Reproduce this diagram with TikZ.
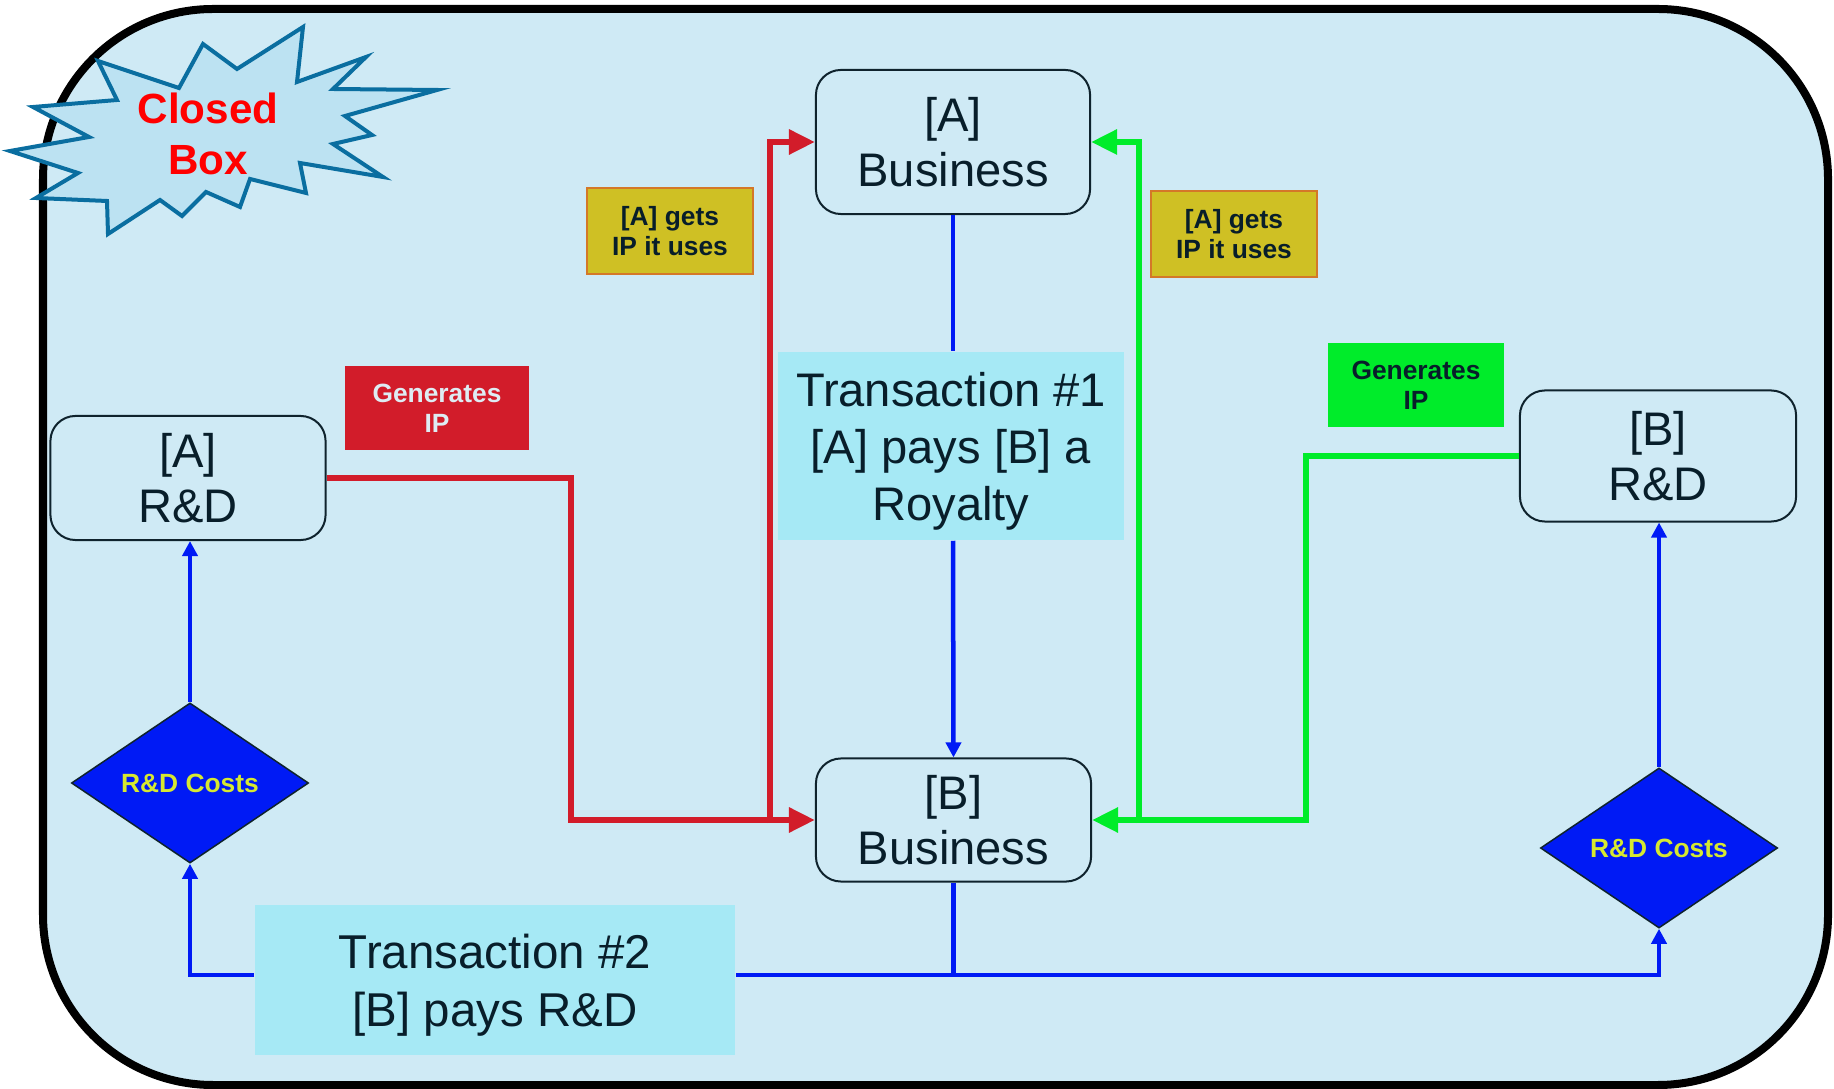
\documentclass[tikz,border=0pt]{standalone}
\usepackage{fontspec}
\setmainfont{Liberation Sans}
\usetikzlibrary{shapes.geometric,arrows.meta}
\definecolor{bgblue}{RGB}{207,234,245}
\definecolor{starfill}{RGB}{188,226,242}
\definecolor{starline}{RGB}{10,110,160}
\definecolor{boxline}{RGB}{15,35,45}
\definecolor{txtdark}{RGB}{8,30,42}
\definecolor{trcyan}{RGB}{166,233,245}
\definecolor{lnred}{RGB}{210,28,42}
\definecolor{lngreen}{RGB}{0,236,42}
\definecolor{lnblue}{RGB}{0,26,245}
\definecolor{labredtxt}{RGB}{222,236,243}
\definecolor{labgold}{RGB}{207,192,36}
\definecolor{labgoldline}{RGB}{212,120,40}
\definecolor{diatext}{RGB}{214,232,48}
\begin{document}
\begin{tikzpicture}[x=0.01cm,y=-0.01cm,
  bizbox/.style={draw=boxline, line width=0.02cm, fill=bgblue, rounded corners=0.25cm,
    align=center, text=txtdark, font=\fontsize{13.4}{15.6}\selectfont, inner sep=0pt},
  trbox/.style={fill=trcyan, align=center, text=txtdark, inner sep=0pt, text depth=0pt},
  lab/.style={align=center, font=\bfseries\fontsize{7.5}{8.6}\selectfont, inner sep=0pt},
  dia/.style={diamond, draw=boxline, line width=0.015cm, fill=lnblue, text=diatext,
    font=\bfseries\fontsize{7.5}{9}\selectfont, inner sep=0pt,
    minimum width=2.37cm, minimum height=1.6cm},
  redln/.style={draw=lnred, line width=0.06cm},
  grnln/.style={draw=lngreen, line width=0.06cm},
  blueln/.style={draw=lnblue, line width=0.045cm},
  tipbig/.style={-{Triangle[length=0.26cm,width=0.24cm]}},
  tipsmall/.style={-{Triangle[length=0.15cm,width=0.15cm]}}
]
\useasboundingbox (0,0) rectangle (1834,1089);
% outer closed box
\draw[line width=0.08cm, fill=bgblue, rounded corners=1.7cm] (43,9) rectangle (1828,1085);

% starburst
\draw[draw=starline, fill=starfill, line width=0.04cm, line join=miter]
  (98,61) -- (117,100) -- (33,107) -- (89,137) -- (10,151) -- (78,173) -- (36,198)
  -- (107,201) -- (108,234) -- (160,200) -- (182,216) -- (206,192) -- (240,207)
  -- (250,179) -- (306,193) -- (300,163) -- (383,177) -- (333,144) -- (372,135)
  -- (345,116) -- (437,90) -- (333,89) -- (366,57) -- (297,82) -- (303,27)
  -- (237,69) -- (203,44) -- (179,88) -- cycle;
\node[align=center, text=red, inner sep=0pt, font=\bfseries\fontsize{12}{14.5}\selectfont]
  (cb) at (208,134) {Closed\\Box};

% main boxes
\node[bizbox, minimum width=2.74cm, minimum height=1.44cm] (ABiz) at (953,142) {[A]\\Business};
\node[bizbox, minimum width=2.75cm, minimum height=1.23cm] (BBiz) at (953.5,820) {[B]\\Business};
\node[bizbox, minimum width=2.75cm, minimum height=1.24cm] (ARD) at (188,478) {[A]\\R\&D};
\node[bizbox, minimum width=2.76cm, minimum height=1.31cm] (BRD) at (1658,456) {[B]\\R\&D};

% transaction boxes
\node[trbox, minimum width=3.46cm, minimum height=1.88cm,
  font=\fontsize{13.4}{16.2}\selectfont] (T1) at (951,446)
  {Transaction \#1\\{}[A] pays [B] a\\Royalty};
\node[trbox, minimum width=4.80cm, minimum height=1.50cm,
  font=\fontsize{13.5}{16.5}\selectfont] (T2) at (495,980)
  {Transaction \#2\\{}[B] pays R\&D};

% labels
\node[lab, fill=lnred, text=labredtxt, minimum width=1.84cm, minimum height=0.84cm]
  (genR) at (437,408) {Generates\\IP};
\node[lab, fill=lngreen, text=txtdark, minimum width=1.75cm, minimum height=0.84cm]
  (genG) at (1416,385) {Generates\\IP};
\node[lab, fill=labgold, draw=labgoldline, line width=0.015cm, text=txtdark,
  minimum width=1.66cm, minimum height=0.86cm] (getsL) at (670,231) {[A] gets\\IP it uses};
\node[lab, fill=labgold, draw=labgoldline, line width=0.015cm, text=txtdark,
  minimum width=1.66cm, minimum height=0.86cm] (getsR) at (1234,234) {[A] gets\\IP it uses};

% diamonds
\node[dia] (DiaL) at (190,783) {R\&D Costs};
\node[dia] (DiaR) at (1659,848) {R\&D Costs};

% red connectors
\coordinate (rc) at (571,650);
\draw[redln, tipbig] (ARD.east) -| (rc) |- (BBiz.west);
\coordinate (rj) at (770,823);
\draw[redln, tipbig] (rj) |- (ABiz.west);

% green connectors
\coordinate (gc) at (1306,650);
\draw[grnln, tipbig] (BRD.west) -| (gc) |- (BBiz.east);
\coordinate (gj) at (1139,823);
\draw[grnln, tipbig] (gj) |- (ABiz.east);

% blue connectors
\draw[blueln] (ABiz.south) -- (ABiz.south |- T1.north);
\draw[blueln, tipsmall] (ABiz.south |- T1.south) -- (BBiz.north);
\coordinate (jb) at (953.5,975);
\draw[blueln] (BBiz.south) -- (jb);
\draw[blueln, tipsmall] (jb) -| (DiaR.south);
\draw[blueln] (jb) -- (T2.east |- jb);
\draw[blueln, tipsmall] (T2.west |- jb) -| (DiaL.south);
\draw[blueln, tipsmall] (DiaL.north) -- (DiaL.north |- ARD.south);
\draw[blueln, tipsmall] (DiaR.north) -- (DiaR.north |- BRD.south);
\end{tikzpicture}
\end{document}
